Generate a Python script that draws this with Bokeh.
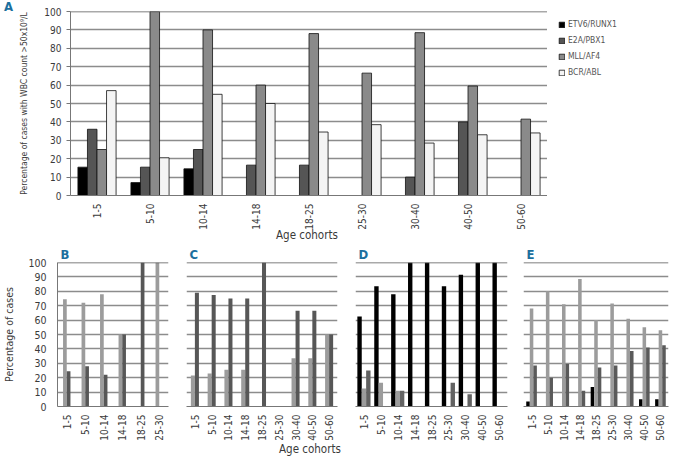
import numpy as np
from bokeh.plotting import figure
from bokeh.layouts import column, row
from bokeh.models import (Range1d, FactorRange, Legend, LegendItem, Span, ColumnDataSource,
                          FixedTicker, Div)
from bokeh.transform import dodge
from bokeh.embed import file_html
from bokeh.resources import INLINE

# ---------------- data ----------------
cohorts_a = ["1-5", "5-10", "10-14", "14-18", "18-25", "25-30", "30-40", "40-50", "50-60"]
etv6_runx1 = [15.4, 7, 14.5, 0, 0, 0, 0, 0, 0]
e2a_pbx1 = [36, 15.4, 25, 16.5, 16.5, 0, 10, 40, 0]
mll_af4 = [25, 100, 90, 60, 88, 66.5, 88.5, 59.5, 41.5]
bcr_abl = [57, 20.5, 55, 50, 34.5, 38.5, 28.5, 33, 34]
series_names_a = ["ETV6/RUNX1", "E2A/PBX1", "MLL/AF4", "BCR/ABL"]

cohorts_b = ["1-5", "5-10", "10-14", "14-18", "18-25", "25-30"]
b_light = [74.5, 72, 78, 50, 0, 100]
b_dark = [24.5, 28, 22, 50, 100, 0]

cohorts_c = ["1-5", "5-10", "10-14", "14-18", "18-25", "25-30", "30-40", "40-50", "50-60"]
c_light = [21.5, 23, 25.5, 25.5, 0, 0, 33.5, 33.5, 50]
c_dark = [79, 77.5, 75, 75, 100, 0, 66.5, 66.5, 50]

cohorts_d = ["1-5", "5-10", "10-14", "14-18", "18-25", "25-30", "30-40", "40-50", "50-60"]
d_black = [62.5, 83.5, 78, 100, 100, 83.5, 91.5, 100, 100]
d_light = [12.5, 16.5, 11, 0, 0, 0, 0, 0, 0]
d_dark = [25, 0, 11, 0, 0, 16.5, 8.5, 0, 0]

cohorts_e = ["1-5", "5-10", "10-14", "14-18", "18-25", "25-30", "30-40", "40-50", "50-60"]
e_black = [3.5, 0, 0, 0, 13.5, 0, 0, 5, 5]
e_light = [68, 80, 71, 88.5, 60, 71.5, 61, 55, 53]
e_dark = [28.5, 20, 29.5, 11, 27, 28.5, 38.5, 41, 42.5]

y_ticks = [0, 10, 20, 30, 40, 50, 60, 70, 80, 90, 100]

# ---------------- style ----------------
FONT = "'DejaVu Sans Condensed', 'Liberation Sans Narrow', Roboto, sans-serif"
TEAL = "#1c6f9e"
GRID = "#8c8c8c"
TXT = "#3a3a3a"

TOP_H, TOP_T, TOP_B = 232, 11, 32
LAB_H = 13
BOT_H, BOT_T, BOT_B = 201, 20, 32


def base_fig(cats, width, height, lb, rb, tb, bb):
    p = figure(x_range=FactorRange(*cats), y_range=Range1d(0, 100),
               width=width, height=height, output_backend="svg",
               toolbar_location=None, min_border_left=lb, min_border_right=rb,
               min_border_top=tb, min_border_bottom=bb)
    p.outline_line_color = None
    p.xgrid.grid_line_color = None
    p.ygrid.grid_line_color = GRID
    p.ygrid.grid_line_width = 1.6
    p.yaxis.ticker = FixedTicker(ticks=y_ticks)
    p.yaxis.minor_tick_line_color = None
    p.xaxis.major_tick_line_color = None
    p.xaxis.minor_tick_line_color = None
    p.xaxis.major_label_orientation = np.pi / 2
    p.xaxis.major_label_standoff = 2
    p.xaxis.major_label_text_font_size = "10px"
    p.xaxis.axis_line_color = "#777777"
    p.yaxis.axis_line_color = "#777777"
    for ax in (p.xaxis[0], p.yaxis[0]):
        ax.major_label_text_font = FONT
        ax.major_label_text_color = TXT
        ax.axis_label_text_font = FONT
        ax.axis_label_text_font_style = "normal"
        ax.axis_label_text_color = TXT
    p.add_layout(Span(location=100, dimension="width", line_color="#555555", line_width=1.4))
    return p


def text_div(text, width, height, indent, size, bold=False, color=TXT, line_h=None, margin=(0, 0, 0, 0)):
    return Div(text=text, width=width, height=height, margin=margin,
               styles={"font-family": FONT, "font-size": size,
                       "font-weight": "bold" if bold else "normal", "color": color,
                       "text-indent": indent, "line-height": "%dpx" % (line_h or height),
                       "white-space": "nowrap", "overflow": "visible"})


# ---------------- panel A ----------------
div_a = text_div("A", 14, TOP_H, "4px", "13px", bold=True, color=TEAL, line_h=14)

pa = base_fig(cohorts_a, 533, TOP_H, 56, 0, TOP_T, TOP_B)
src_a = ColumnDataSource(dict(c=cohorts_a, s1=etv6_runx1, s2=e2a_pbx1, s3=mll_af4, s4=bcr_abl))
cols_a = ["#000000", "#555555", "#8a8a8a", "#f4f4f4"]
offs_a = [-0.27, -0.09, 0.09, 0.27]
fields_a = ["s1", "s2", "s3", "s4"]
for f, col, o in zip(fields_a, cols_a, offs_a):
    pa.vbar(x=dodge("c", o, range=pa.x_range), top=f, width=0.18, source=src_a,
            fill_color=col, line_color="#111111", line_width=0.8)
pa.yaxis.axis_label = "Percentage of cases with WBC count >50x10\u2079/L"
pa.yaxis.axis_label_text_font_size = "8.5px"
pa.yaxis.axis_label_standoff = 12
pa.yaxis.major_label_text_font_size = "10px"
pa.yaxis.major_tick_out = 4
pa.yaxis.major_tick_in = 0
pa.yaxis.major_tick_line_color = "#777777"

# legend panel: same data; its renderers are hidden, only the legend is drawn
pl = figure(x_range=FactorRange(*cohorts_a), y_range=Range1d(0, 100), width=122, height=TOP_H,
            output_backend="svg", toolbar_location=None, min_border_left=0, min_border_right=0,
            min_border_top=TOP_T, min_border_bottom=TOP_B)
pl.axis.visible = False
pl.grid.visible = False
pl.outline_line_color = None
rs = []
for f, col in zip(fields_a, cols_a):
    r = pl.vbar(x="c", top=f, width=0.18, source=src_a,
                fill_color=col, line_color="#111111", line_width=0.8)
    r.visible = False
    rs.append(r)
legend = Legend(items=[LegendItem(label=n, renderers=[r]) for n, r in zip(series_names_a, rs)],
                location=(11, 118), margin=0, padding=4, spacing=6,
                label_height=10, glyph_height=7, glyph_width=7, label_standoff=3,
                label_text_font=FONT, label_text_font_size="8.5px", label_text_color="#555555",
                border_line_color=None, background_fill_alpha=0, inactive_fill_alpha=0)
pl.add_layout(legend)

age_a = text_div("Age cohorts", 669, LAB_H, "276px", "11.5px", margin=(-3, 0, 0, 0))


# ---------------- bottom panels ----------------
def small(letter, cats, series, colors, bw, offs, w, lb, rb, show_y):
    p = base_fig(cats, w, BOT_H, lb, rb, BOT_T, BOT_B)
    data = dict(c=cats)
    for i, s in enumerate(series):
        data["s%d" % i] = s
    src = ColumnDataSource(data)
    for i, (col, o) in enumerate(zip(colors, offs)):
        p.vbar(x=dodge("c", o, range=p.x_range), top="s%d" % i, width=bw, source=src,
               fill_color=col, line_color=None)
    if show_y:
        p.yaxis.major_label_text_font_size = "10.5px"
        p.yaxis.major_tick_line_color = None
        p.yaxis.axis_label = "Percentage of cases"
        p.yaxis.axis_label_text_font_size = "10.5px"
        p.yaxis.axis_label_standoff = 10
    else:
        p.yaxis.visible = False
    p.title.text = letter
    p.title.align = "left"
    p.title.offset = 3
    p.title.standoff = 1
    p.title.text_font = FONT
    p.title.text_font_size = "13px"
    p.title.text_font_style = "bold"
    p.title.text_color = TEAL
    return p


LIGHT = "#9c9c9c"
DARK = "#575757"
pb = small("B", cohorts_b, [b_light, b_dark], [LIGHT, DARK], 0.2, [-0.1, 0.1], 174, 50, 6, True)
pc = small("C", cohorts_c, [c_light, c_dark], [LIGHT, DARK], 0.24, [-0.12, 0.12], 169, 12, 6, False)
pd = small("D", cohorts_d, [d_black, d_light, d_dark], ["#000000", LIGHT, "#626262"], 0.26,
           [-0.26, 0, 0.26], 168, 12, 4, False)
pe = small("E", cohorts_e, [e_black, e_light, e_dark], ["#000000", LIGHT, "#5a5a5a"], 0.22,
           [-0.22, 0, 0.22], 158, 12, 1, False)

age_b = text_div("Age cohorts", 669, LAB_H, "279px", "11.5px")

layout = column(row(div_a, pa, pl, spacing=0), age_a,
                row(pb, pc, pd, pe, spacing=0), age_b, spacing=0)
open("out.html", "w").write(file_html(layout, INLINE))
